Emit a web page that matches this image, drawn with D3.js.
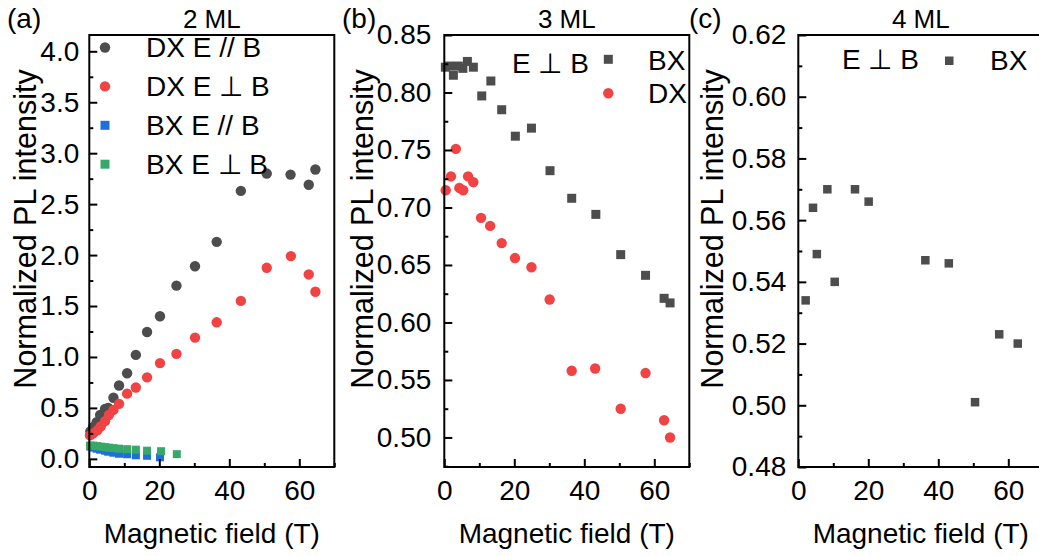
<!DOCTYPE html>
<html><head><meta charset="utf-8">
<script src="https://cdn.jsdelivr.net/npm/d3@7"></script>
<style>body{margin:0;background:#fff;} text{font-family:"Liberation Sans",Arial,sans-serif;fill:#000;}</style>
</head><body>
<svg id="c" width="1039" height="556"></svg>
<script>
// Panel (a): 2 ML
const a_dxPar_x = [0.3, 1.1, 2.1, 3.1, 4.5, 5.4, 6.9, 8.5, 10.8, 13.3, 16.5, 20.2, 24.9, 30.2, 36.4, 43.3, 50.7, 57.5, 62.7, 64.6];
const a_dxPar_y = [0.27, 0.31, 0.36, 0.43, 0.49, 0.50, 0.60, 0.72, 0.84, 1.02, 1.245, 1.40, 1.70, 1.89, 2.13, 2.63, 2.80, 2.79, 2.69, 2.84];
const a_dxPerp_x = [0.2, 1.1, 2.3, 3.3, 4.5, 5.6, 6.9, 8.5, 10.8, 13.3, 16.5, 20.2, 24.9, 30.2, 36.4, 43.3, 50.7, 57.6, 62.7, 64.6];
const a_dxPerp_y = [0.23, 0.25, 0.28, 0.32, 0.37, 0.43, 0.48, 0.54, 0.64, 0.70, 0.80, 0.94, 1.03, 1.19, 1.34, 1.55, 1.875, 1.99, 1.81, 1.64];
const a_bxPar_x = [0.3, 1.1, 2.1, 3.1, 4.5, 5.4, 6.9, 8.5, 10.8, 13.3, 16.5, 20.2];
const a_bxPar_y = [0.12, 0.11, 0.10, 0.09, 0.08, 0.07, 0.06, 0.05, 0.045, 0.035, 0.03, 0.015];
const a_bxPerp_x = [0.2, 1.1, 2.3, 3.3, 4.5, 5.6, 6.9, 8.5, 10.8, 13.3, 16.5, 20.5, 25.0];
const a_bxPerp_y = [0.13, 0.13, 0.125, 0.12, 0.115, 0.11, 0.105, 0.10, 0.095, 0.09, 0.08, 0.075, 0.046];
// Panel (b): 3 ML, E ⊥ B
const b_bx_x = [0.3, 1.5, 2.6, 4.0, 5.3, 6.6, 8.3, 10.7, 13.3, 16.4, 20.3, 24.9, 30.2, 36.4, 43.3, 50.4, 57.5, 62.8, 64.5];
const b_bx_y = [0.822, 0.823, 0.815, 0.823, 0.821, 0.827, 0.822, 0.797, 0.810, 0.785, 0.762, 0.769, 0.732, 0.708, 0.694, 0.659, 0.641, 0.621, 0.617];
const b_dx_x = [0.4, 1.9, 3.3, 4.3, 5.4, 6.8, 8.3, 10.5, 13.1, 16.4, 20.2, 24.9, 30.1, 36.4, 43.1, 50.4, 57.5, 62.8, 64.5];
const b_dx_y = [0.715, 0.727, 0.751, 0.717, 0.715, 0.727, 0.722, 0.691, 0.684, 0.669, 0.656, 0.648, 0.620, 0.558, 0.560, 0.525, 0.556, 0.515, 0.500];
// Panel (c): 4 ML, E ⊥ B
const c_bx_x = [2.1, 4.2, 5.3, 8.3, 10.4, 16.2, 20.1, 36.3, 43.0, 50.5, 57.4, 62.7];
const c_bx_y = [0.534, 0.564, 0.549, 0.570, 0.540, 0.570, 0.566, 0.547, 0.546, 0.501, 0.523, 0.520];
// Tick labels
const xTicks = [0, 20, 40, 60];
const a_yTicks = [0.0, 0.5, 1.0, 1.5, 2.0, 2.5, 3.0, 3.5, 4.0];
const b_yTicks = [0.50, 0.55, 0.60, 0.65, 0.70, 0.75, 0.80, 0.85];
const c_yTicks = [0.48, 0.50, 0.52, 0.54, 0.56, 0.58, 0.60, 0.62];

const C = {gray:"#4d4d4d", red:"#f04343", blue:"#1e6fdc", green:"#38a86a"};
const svg = d3.select("#c");
const plotTop = 35, plotBottom = 467;

function panel(o) {
  const x = d3.scaleLinear().domain([0, 70]).range([o.left, o.left + 245]);
  const y = d3.scaleLinear().domain(o.ydom).range([plotBottom, plotTop]);
  const g = svg.append("g");
  o.series.forEach(s => {
    const pts = s.xs.map((v, i) => [v, s.ys[i]]);
    if (s.shape === "circle") {
      g.selectAll(null).data(pts).enter().append("circle")
        .attr("cx", d => x(d[0])).attr("cy", d => y(d[1])).attr("r", 5.2).attr("fill", s.color);
    } else {
      const sz = s.size || 8.5;
      g.selectAll(null).data(pts).enter().append("rect")
        .attr("x", d => x(d[0]) - sz/2).attr("y", d => y(d[1]) - sz/2)
        .attr("width", sz).attr("height", sz).attr("fill", s.color);
    }
  });
  const xMinor = [10, 30, 50, 70];
  const ax = g.append("g").attr("transform", `translate(0,${plotBottom})`)
    .call(d3.axisBottom(x).tickValues(xTicks).tickSize(-8).tickPadding(13).tickFormat(d3.format("d")));
  g.append("g").attr("transform", `translate(0,${plotBottom})`)
    .call(d3.axisBottom(x).tickValues(xMinor).tickSize(-4).tickFormat(""));
  g.append("g").attr("transform", `translate(${o.left},0)`)
    .call(d3.axisLeft(y).tickValues(o.yticks).tickSize(-8).tickPadding(o.ypad).tickFormat(d3.format(o.fmt)));
  g.append("g").attr("transform", `translate(${o.left},0)`)
    .call(d3.axisLeft(y).tickValues(o.yminor).tickSize(-4).tickFormat(""));
  g.selectAll(".domain").remove();
  g.selectAll(".tick line").attr("stroke", "#000").attr("stroke-width", 2);
  g.selectAll(".tick text").attr("font-size", 28).attr("font-family", "Liberation Sans, Arial, sans-serif").attr("fill", "#000");
  ax.selectAll(".tick text").attr("dy", "0.71em");
  g.append("rect").attr("x", o.left).attr("y", plotTop).attr("width", 245).attr("height", plotBottom - plotTop)
    .attr("fill", "none").attr("stroke", "#000").attr("stroke-width", 2);
  g.append("text").attr("x", x(35)).attr("y", 28).attr("text-anchor", "middle").attr("font-size", 26).text(o.title);
  g.append("text").attr("x", o.tagX).attr("y", 28).attr("font-size", 28).text(o.tag);
  g.append("text").attr("x", x(35)).attr("y", 543).attr("text-anchor", "middle").attr("font-size", 28).text("Magnetic field (T)");
  g.append("text").attr("transform", `translate(${o.ylabX},229) rotate(-90)`).attr("text-anchor", "middle")
    .attr("dy", "0.35em").attr("font-size", 30.5).text("Normalized PL intensity");
  return {g, x, y};
}

const pa = panel({left: 89.3, ydom: [-0.08, 4.16], yticks: a_yTicks, yminor: [0.25, 0.75, 1.25, 1.75, 2.25, 2.75, 3.25, 3.75], fmt: ".1f",
  ypad: 10, title: "2 ML", tag: "(a)", tagX: 7, ylabX: 25,
  series: [
    {xs: a_dxPar_x, ys: a_dxPar_y, color: C.gray, shape: "circle"},
    {xs: a_bxPar_x, ys: a_bxPar_y, color: C.blue, shape: "square", size: 8},
    {xs: a_bxPerp_x, ys: a_bxPerp_y, color: C.green, shape: "square", size: 8},
    {xs: a_dxPerp_x, ys: a_dxPerp_y, color: C.red, shape: "circle"}
  ]});
const legA = [
  {label: "DX E // B", color: C.gray, shape: "circle"},
  {label: "DX E \u22A5 B", color: C.red, shape: "circle"},
  {label: "BX E // B", color: C.blue, shape: "square"},
  {label: "BX E \u22A5 B", color: C.green, shape: "square"}
];
legA.forEach((d, i) => {
  const yy = 47.5 + i * 38.9;
  if (d.shape === "circle") pa.g.append("circle").attr("cx", 105).attr("cy", yy).attr("r", 5.2).attr("fill", d.color);
  else pa.g.append("rect").attr("x", 100.5).attr("y", yy - 4.5).attr("width", 9).attr("height", 9).attr("fill", d.color);
  pa.g.append("text").attr("x", 146).attr("y", yy).attr("dy", "0.35em").attr("font-size", 28).text(d.label);
});

const pb = panel({left: 444.3, ydom: [0.4743, 0.85], yticks: b_yTicks, yminor: [0.475, 0.525, 0.575, 0.625, 0.675, 0.725, 0.775, 0.825], fmt: ".2f",
  ypad: 13, title: "3 ML", tag: "(b)", tagX: 342, ylabX: 362,
  series: [
    {xs: b_bx_x, ys: b_bx_y, color: C.gray, shape: "square", size: 9},
    {xs: b_dx_x, ys: b_dx_y, color: C.red, shape: "circle"}
  ]});
pb.g.append("text").attr("x", 512).attr("y", 63).attr("dy", "0.35em").attr("font-size", 28).text("E \u22A5 B");
pb.g.append("rect").attr("x", 603.8).attr("y", 54.8).attr("width", 9).attr("height", 9).attr("fill", C.gray);
pb.g.append("text").attr("x", 648).attr("y", 60).attr("dy", "0.35em").attr("font-size", 28).text("BX");
pb.g.append("circle").attr("cx", 608.3).attr("cy", 93.3).attr("r", 5.2).attr("fill", C.red);
pb.g.append("text").attr("x", 648).attr("y", 93.3).attr("dy", "0.35em").attr("font-size", 28).text("DX");

const pc = panel({left: 798.3, ydom: [0.48, 0.62], yticks: c_yTicks, yminor: [0.49, 0.51, 0.53, 0.55, 0.57, 0.59, 0.61], fmt: ".2f",
  ypad: 12, title: "4 ML", tag: "(c)", tagX: 689, ylabX: 712,
  series: [
    {xs: c_bx_x, ys: c_bx_y, color: C.gray, shape: "square", size: 8.5}
  ]});
pc.g.append("text").attr("x", 842).attr("y", 59.5).attr("dy", "0.35em").attr("font-size", 28).text("E \u22A5 B");
pc.g.append("rect").attr("x", 945).attr("y", 56.5).attr("width", 8.5).attr("height", 8.5).attr("fill", C.gray);
pc.g.append("text").attr("x", 990).attr("y", 60.5).attr("dy", "0.35em").attr("font-size", 28).text("BX");
</script>
</body></html>
